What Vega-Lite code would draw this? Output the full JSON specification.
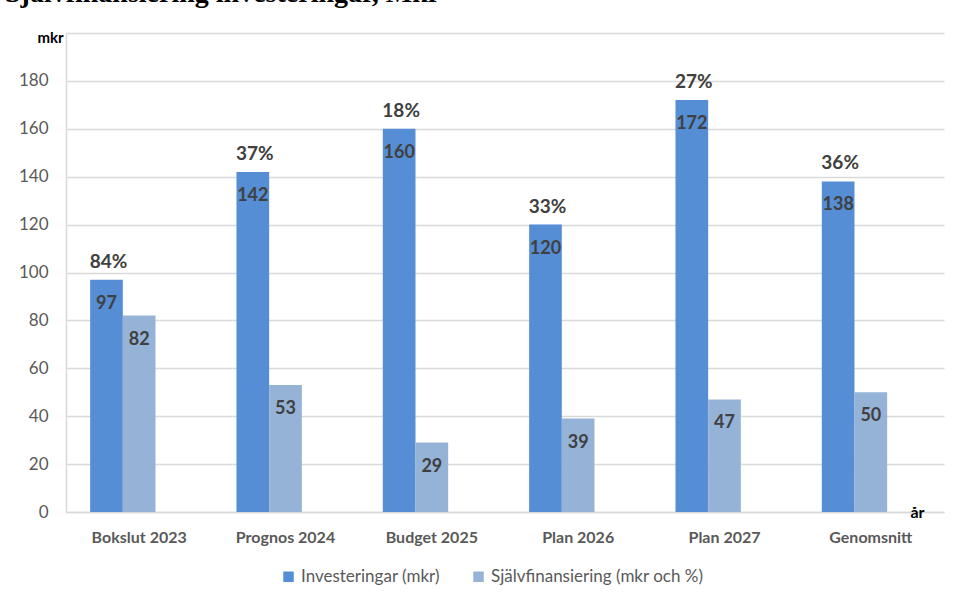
{
  "$schema": "https://vega.github.io/schema/vega-lite/v6.json",
  "autosize": "none",
  "width": 878,
  "height": 479,
  "padding": {"left": 66, "top": 33, "right": 16, "bottom": 89},
  "background": "white",
  "title": {
    "text": "Självfinansiering investeringar, Mkr",
    "anchor": "start",
    "frame": "group",
    "font": "Liberation Serif",
    "fontSize": 28,
    "fontWeight": "bold",
    "color": "#000000",
    "baseline": "alphabetic",
    "offset": 0,
    "dx": -61,
    "dy": 0
  },
  "config": {
    "font": "Lato",
    "view": {"stroke": null}
  },
  "data": {
    "values": [
      {"cat": "Bokslut 2023", "serie": "Investeringar (mkr)", "value": 97, "pct": "84%"},
      {"cat": "Bokslut 2023", "serie": "Självfinansiering (mkr och %)", "value": 82, "pct": ""},
      {"cat": "Prognos 2024", "serie": "Investeringar (mkr)", "value": 142, "pct": "37%"},
      {"cat": "Prognos 2024", "serie": "Självfinansiering (mkr och %)", "value": 53, "pct": ""},
      {"cat": "Budget 2025", "serie": "Investeringar (mkr)", "value": 160, "pct": "18%"},
      {"cat": "Budget 2025", "serie": "Självfinansiering (mkr och %)", "value": 29, "pct": ""},
      {"cat": "Plan 2026", "serie": "Investeringar (mkr)", "value": 120, "pct": "33%"},
      {"cat": "Plan 2026", "serie": "Självfinansiering (mkr och %)", "value": 39, "pct": ""},
      {"cat": "Plan 2027", "serie": "Investeringar (mkr)", "value": 172, "pct": "27%"},
      {"cat": "Plan 2027", "serie": "Självfinansiering (mkr och %)", "value": 47, "pct": ""},
      {"cat": "Genomsnitt", "serie": "Investeringar (mkr)", "value": 138, "pct": "36%"},
      {"cat": "Genomsnitt", "serie": "Självfinansiering (mkr och %)", "value": 50, "pct": ""}
    ]
  },
  "encoding": {
    "x": {
      "field": "cat",
      "type": "nominal",
      "sort": null,
      "scale": {"paddingInner": 0.33, "paddingOuter": 0.165},
      "axis": {
        "title": "år",
        "titleX": 851,
        "titleY": 0,
        "titleBaseline": "middle",
        "titleAlign": "center",
        "titleFontSize": 16,
        "titleFontWeight": "bold",
        "titleColor": "#000000",
        "labelAngle": 0,
        "labelFontSize": 16,
        "labelFontWeight": "bold",
        "labelColor": "#595959",
        "labelPadding": 17,
        "ticks": false,
        "domainColor": "#d9d9d9",
        "domainWidth": 1.5
      }
    },
    "xOffset": {
      "field": "serie",
      "type": "nominal",
      "scale": {"domain": ["Investeringar (mkr)", "Självfinansiering (mkr och %)", "pad"], "paddingInner": 0, "paddingOuter": 0}
    },
    "y": {
      "field": "value",
      "type": "quantitative",
      "scale": {"domain": [0, 200], "nice": false},
      "axis": {
        "values": [0, 20, 40, 60, 80, 100, 120, 140, 160, 180, 200],
        "labelExpr": "datum.value == 200 ? '' : datum.label",
        "title": "mkr",
        "titleAngle": 0,
        "titleX": -16,
        "titleY": 4,
        "titleAlign": "center",
        "titleBaseline": "middle",
        "titleFontSize": 15,
        "titleFontWeight": "bold",
        "titleColor": "#000000",
        "labelFontSize": 17,
        "labelColor": "#595959",
        "labelPadding": 18,
        "ticks": false,
        "domainColor": "#d9d9d9",
        "domainWidth": 1.5,
        "gridColor": "#d9d9d9",
        "gridWidth": 1.5
      }
    }
  },
  "layer": [
    {
      "mark": {"type": "bar"},
      "encoding": {
        "color": {
          "field": "serie",
          "type": "nominal",
          "scale": {"domain": ["Investeringar (mkr)", "Självfinansiering (mkr och %)"], "range": ["#558ED5", "#95B3D7"]},
          "legend": {
            "title": null,
            "orient": "none",
            "legendX": 214,
            "legendY": 535,
            "direction": "horizontal",
            "symbolType": "square",
            "symbolSize": 110,
            "symbolStrokeWidth": 0,
            "labelFontSize": 17,
            "labelColor": "#595959",
            "labelLimit": 400,
            "columnPadding": 30
          }
        }
      }
    },
    {
      "mark": {"type": "text", "baseline": "middle", "align": "center", "dy": 24, "fontSize": 18, "fontWeight": "bold", "color": "#404040"},
      "encoding": {"text": {"field": "value", "type": "quantitative"}}
    },
    {
      "transform": [{"filter": "datum.pct != ''"}],
      "mark": {"type": "text", "baseline": "middle", "align": "center", "dy": -18, "dx": 2, "fontSize": 19, "fontWeight": "bold", "color": "#404040"},
      "encoding": {"text": {"field": "pct", "type": "nominal"}}
    }
  ]
}
